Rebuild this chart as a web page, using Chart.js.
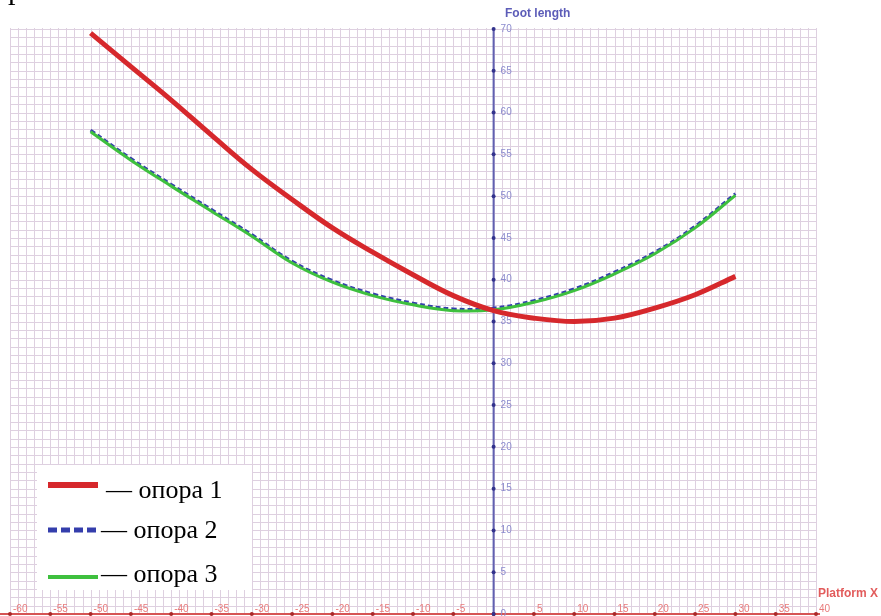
<!DOCTYPE html>
<html>
<head>
<meta charset="utf-8">
<script src="https://cdn.jsdelivr.net/npm/chart.js@4/dist/chart.umd.min.js"></script>
<style>
  html, body { margin: 0; padding: 0; background: #fff; overflow: hidden; }
  #wrap { position: relative; width: 881px; height: 616px; overflow: hidden; }
  #corner { position: absolute; left: 8px; top: -28px; font: 30px "Liberation Serif", serif; color: #000; }
</style>
</head>
<body>
<div id="wrap">
  <canvas id="c" width="881" height="616"></canvas>
  <div id="corner">р</div>
</div>
<script>
// Platform X positions and foot length for each support
const platformX = [-50, -45, -40, -35, -30, -25, -20, -15, -10, -5, 0, 5, 10, 15, 20, 25, 30];
const opora1 = [69.5, 65.5, 61.5, 57.3, 53.2, 49.6, 46.2, 43.3, 40.6, 38.1, 36.3, 35.4, 35.0, 35.4, 36.6, 38.2, 40.4];
const opora2 = [57.9, 54.5, 51.4, 48.4, 45.4, 42.2, 39.9, 38.3, 37.2, 36.5, 36.6, 37.5, 38.9, 40.9, 43.3, 46.4, 50.3];
const opora3 = [57.7, 54.3, 51.2, 48.2, 45.2, 42.0, 39.7, 38.1, 37.0, 36.3, 36.4, 37.3, 38.7, 40.7, 43.1, 46.2, 50.1];
const xTickLabels = [-60, -55, -50, -45, -40, -35, -30, -25, -20, -15, -10, -5, 0, 5, 10, 15, 20, 25, 30, 35, 40];
const yTickLabels = [5, 10, 15, 20, 25, 30, 35, 40, 45, 50, 55, 60, 65, 70];
const seriesNames = ['— опора 1', '— опора 2', '— опора 3'];

const RED = 'rgb(214,40,44)';
const BLUE = 'rgb(52,62,172)';
const GREEN = 'rgb(62,192,62)';

function pts(ys) { return platformX.map((x, i) => ({ x: x, y: ys[i] })); }

// Graph-paper grid, axes through the origin, tick dots and labels
const paperAxes = {
  id: 'paperAxes',
  beforeDatasetsDraw(chart) {
    const ctx = chart.ctx, xs = chart.scales.x, ys = chart.scales.y;
    const x0 = xs.getPixelForValue(0), y0 = ys.getPixelForValue(0);
    const left = xs.getPixelForValue(-60), right = xs.getPixelForValue(40);
    const top = ys.getPixelForValue(70), bottom = ys.getPixelForValue(0);
    ctx.save();
    ctx.strokeStyle = 'rgb(222,208,224)';
    ctx.lineWidth = 1;
    ctx.beginPath();
    for (let v = -60; v <= 40; v++) {
      const p = Math.round(xs.getPixelForValue(v)) + 0.5;
      ctx.moveTo(p, top - 1); ctx.lineTo(p, bottom);
    }
    for (let v = 0; v <= 70; v++) {
      const p = Math.round(ys.getPixelForValue(v)) + 0.5;
      ctx.moveTo(left, p); ctx.lineTo(right, p);
    }
    ctx.stroke();

    // x axis (red)
    ctx.strokeStyle = 'rgb(214,84,84)';
    ctx.lineWidth = 2;
    ctx.beginPath(); ctx.moveTo(0, y0); ctx.lineTo(right + 4, y0); ctx.stroke();
    // y axis (blue)
    ctx.strokeStyle = 'rgb(96,96,176)';
    ctx.beginPath(); ctx.moveTo(x0, top - 1); ctx.lineTo(x0, 616); ctx.stroke();

    ctx.font = '10px Arial, "Liberation Sans", sans-serif';
    // x ticks
    ctx.textAlign = 'left'; ctx.textBaseline = 'alphabetic';
    xTickLabels.forEach(v => {
      const px = xs.getPixelForValue(v);
      ctx.fillStyle = 'rgb(170,40,40)';
      ctx.beginPath(); ctx.arc(px, y0, 2, 0, Math.PI * 2); ctx.fill();
      if (v === 0) return;
      ctx.fillStyle = 'rgb(232,122,122)';
      ctx.fillText(String(v), px + 3, y0 - 2);
    });
    // y ticks
    ctx.textBaseline = 'middle';
    [0].concat(yTickLabels).forEach(v => {
      const py = ys.getPixelForValue(v);
      ctx.fillStyle = 'rgb(50,50,140)';
      ctx.beginPath(); ctx.arc(x0, py, 2, 0, Math.PI * 2); ctx.fill();
      ctx.fillStyle = 'rgb(140,140,206)';
      ctx.fillText(String(v), x0 + 7, py);
    });

    // axis titles
    ctx.font = 'bold 12px Arial, "Liberation Sans", sans-serif';
    ctx.fillStyle = 'rgb(92,92,184)';
    ctx.textBaseline = 'middle';
    ctx.fillText('Foot length', 505, 14);
    ctx.fillStyle = 'rgb(226,92,92)';
    ctx.fillText('Platform X', 818, 594);
    ctx.restore();
  },
  afterDatasetsDraw(chart) {
    // legend box
    const ctx = chart.ctx;
    ctx.save();
    ctx.fillStyle = '#fff';
    ctx.fillRect(37, 465, 215, 125);
    const items = [
      { color: RED, dash: [], w: 6, y: 485, tx: 106, ty: 498 },
      { color: BLUE, dash: [9, 4], w: 5, y: 530, tx: 101, ty: 538 },
      { color: GREEN, dash: [], w: 4, y: 577, tx: 101, ty: 582 }
    ];
    items.forEach((it, i) => {
      ctx.strokeStyle = it.color;
      ctx.lineWidth = it.w;
      ctx.setLineDash(it.dash);
      ctx.beginPath(); ctx.moveTo(48, it.y); ctx.lineTo(98, it.y); ctx.stroke();
      ctx.setLineDash([]);
      ctx.fillStyle = '#000';
      ctx.font = '26px "Liberation Serif", "Times New Roman", serif';
      ctx.textAlign = 'left'; ctx.textBaseline = 'alphabetic';
      ctx.fillText(seriesNames[i], it.tx, it.ty);
    });
    ctx.restore();
  }
};

new Chart(document.getElementById('c'), {
  type: 'line',
  data: {
    datasets: [
      { label: 'опора 1', data: pts(opora1), borderColor: RED, borderWidth: 5, pointRadius: 0, tension: 0.4, fill: false },
      { label: 'опора 3', data: pts(opora3), borderColor: GREEN, borderWidth: 3, pointRadius: 0, tension: 0.4, fill: false },
      { label: 'опора 2', data: pts(opora2), borderColor: BLUE, borderWidth: 3, borderDash: [5, 3], pointRadius: 0, tension: 0.4, fill: false }
    ]
  },
  options: {
    responsive: false,
    animation: false,
    layout: { padding: { left: 10, right: 65, top: 29, bottom: 2 } },
    plugins: { legend: { display: false }, tooltip: { enabled: false } },
    scales: {
      x: { type: 'linear', min: -60, max: 40, display: false },
      y: { type: 'linear', min: 0, max: 70, display: false }
    }
  },
  plugins: [paperAxes]
});
</script>
</body>
</html>
